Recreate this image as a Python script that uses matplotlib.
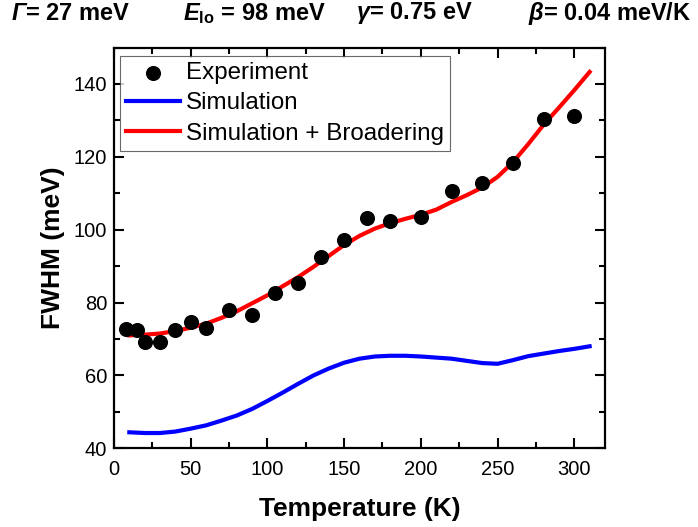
import matplotlib
matplotlib.use("Agg")
import matplotlib.pyplot as plt
from matplotlib.ticker import MultipleLocator

plt.rcParams["font.family"] = ["Liberation Sans", "DejaVu Sans"]
plt.rcParams["mathtext.fontset"] = "custom"
plt.rcParams["mathtext.rm"] = "Liberation Sans"
plt.rcParams["mathtext.it"] = "Liberation Sans:italic"
plt.rcParams["mathtext.bf"] = "Liberation Sans:bold"
plt.rcParams["mathtext.bfit"] = "Liberation Sans:italic:bold"

# Measured linewidths
T_exp = [8, 15, 20, 30, 40, 50, 60, 75, 90, 105, 120, 135, 150, 165, 180,
         200, 220, 240, 260, 280, 300]
F_exp = [72.8, 72.6, 69.2, 69.1, 72.5, 74.8, 72.9, 78.0, 76.5, 82.7, 85.3,
         92.5, 97.2, 103.1, 102.3, 103.6, 110.5, 112.8, 118.4, 130.5, 131.2]

# Model curves
T_sim = [10, 20, 30, 40, 50, 60, 70, 80, 90, 100, 110, 120, 130, 140, 150,
         160, 170, 180, 190, 200, 210, 220, 230, 240, 250, 260, 270, 280,
         290, 300, 310]
F_sim = [44.4, 44.2, 44.2, 44.6, 45.4, 46.3, 47.6, 49.0, 50.8, 53.0, 55.3,
         57.7, 60.0, 61.9, 63.5, 64.6, 65.2, 65.4, 65.4, 65.2, 64.9, 64.6,
         64.0, 63.4, 63.2, 64.2, 65.3, 66.0, 66.7, 67.3, 68.0]
F_broad = [71.0, 71.2, 71.5, 72.2, 73.1, 74.2, 75.8, 77.6, 79.8, 82.0, 84.5,
           87.0, 89.8, 92.8, 95.8, 98.3, 100.3, 101.8, 103.0, 104.1, 105.5,
           107.6, 109.5, 111.6, 114.5, 118.5, 123.5, 128.8, 133.5, 138.3,
           143.3]

params = [r"$\mathbfit{\Gamma}$= 27 meV",
          r"$\mathbfit{E}_{\mathbf{lo}}$ = 98 meV",
          r"$\mathbfit{\gamma}$= 0.75 eV",
          r"$\mathbfit{\beta}$= 0.04 meV/K"]
param_x = [0.016, 0.262, 0.510, 0.757]

fig = plt.figure(figsize=(6.98, 5.27), dpi=100)
ax = fig.add_axes([0.1633, 0.1493, 0.7034, 0.7605])

ax.scatter(T_exp, F_exp, s=118, color="black", zorder=3, label="Experiment",
           linewidths=0)
ax.plot(T_sim, F_sim, color="#0000ff", lw=3, label="Simulation")
ax.plot(T_sim, F_broad, color="#ff0000", lw=3, label="Simulation + Broadering")

ax.set_xlim(0, 320)
ax.set_ylim(40, 150)
ax.xaxis.set_major_locator(MultipleLocator(50))
ax.xaxis.set_minor_locator(MultipleLocator(25))
ax.yaxis.set_major_locator(MultipleLocator(20))
ax.yaxis.set_minor_locator(MultipleLocator(10))
ax.tick_params(which="both", direction="in", top=True, right=True,
               width=1.5, labelsize=14.5)
ax.tick_params(which="major", length=7)
ax.tick_params(which="minor", length=4)
ax.tick_params(axis="x", which="major", pad=8.5)
ax.tick_params(axis="y", which="major", pad=5)
for sp in ax.spines.values():
    sp.set_linewidth(1.6)

ax.set_xlabel("Temperature (K)", fontsize=19, fontweight="bold", labelpad=13)
ax.set_ylabel("FWHM (meV)", fontsize=19, fontweight="bold", labelpad=6)

leg = ax.legend(loc="upper left", bbox_to_anchor=(0.013, 0.979),
                borderaxespad=0, fontsize=17.4, frameon=True, fancybox=False,
                edgecolor="#444444", borderpad=0.25,
                handlelength=2.2, handletextpad=0.28, labelspacing=0.35,
                markerscale=1.0)
leg.get_frame().set_linewidth(0.8)

for x, s in zip(param_x, params):
    fig.text(x, 0.975, s, fontsize=17, fontweight="bold", ha="left",
             va="center")

fig.savefig("out.png", dpi=100)
